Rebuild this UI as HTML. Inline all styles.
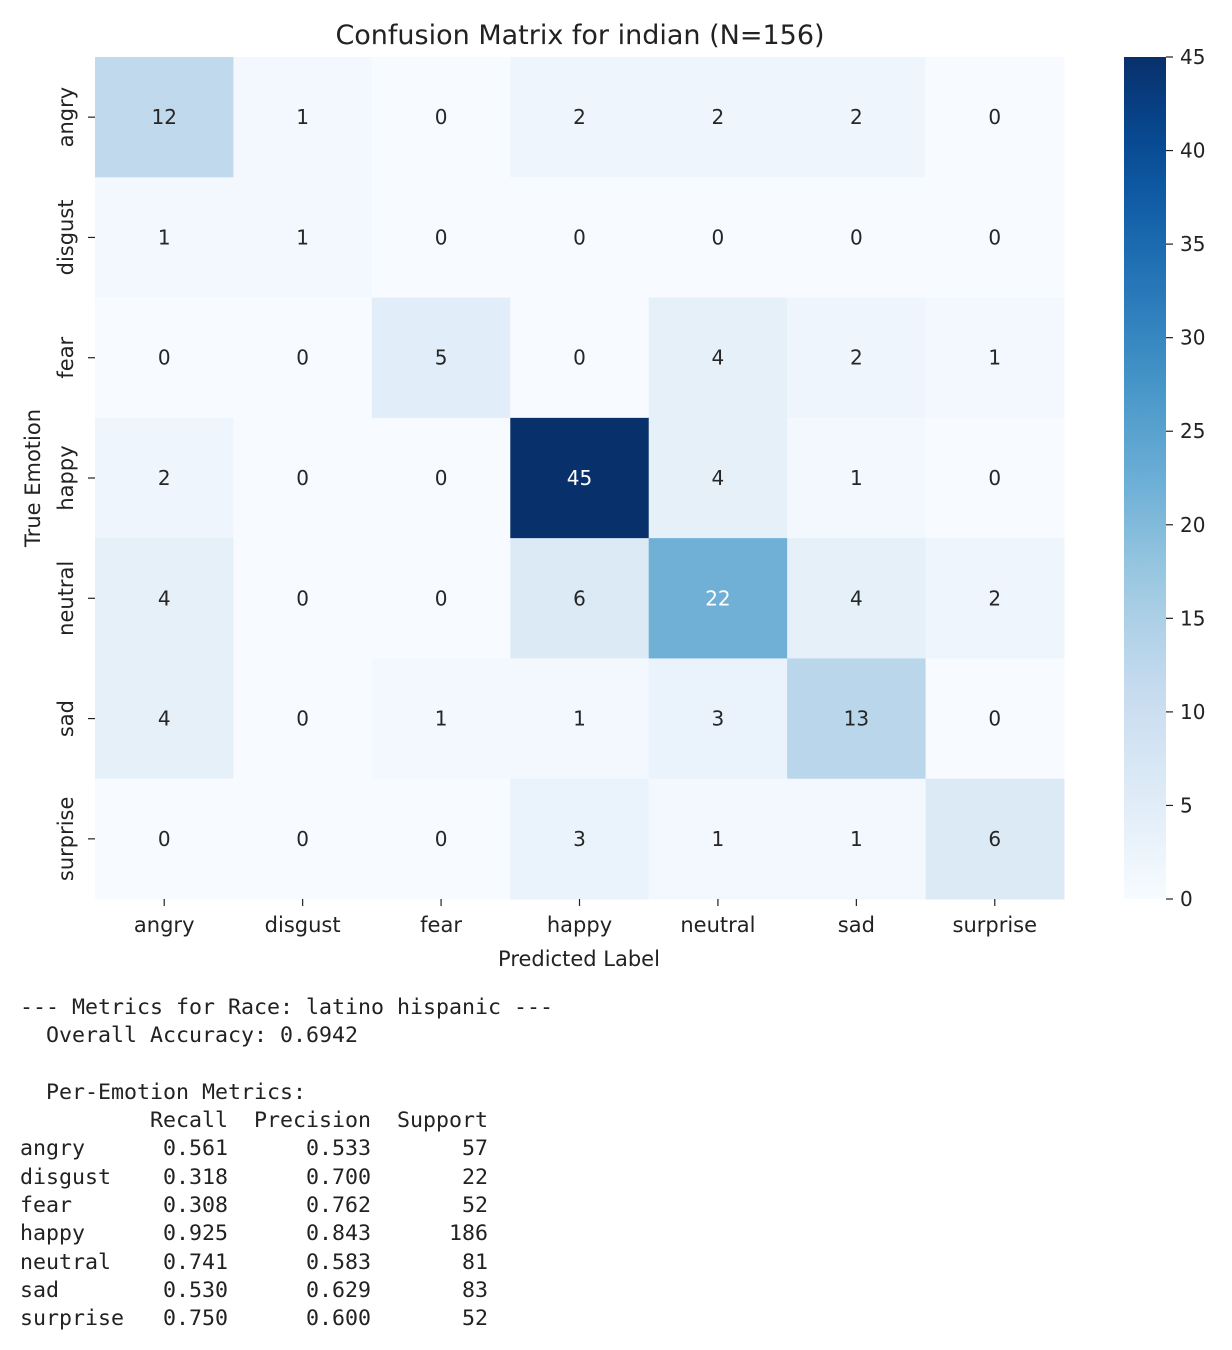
<!DOCTYPE html>
<html><head><meta charset="utf-8"><style>
body{margin:0;background:#fff;width:1232px;height:1350px;overflow:hidden;position:relative}
svg{position:absolute;left:0;top:0}
pre{position:absolute;left:20px;top:994px;margin:0;font-family:"DejaVu Sans Mono","Liberation Mono",monospace;font-size:21.6px;line-height:28.3px;color:#222}
</style></head><body>
<svg id="chart" width="1232" height="980" font-family="DejaVu Sans, Liberation Sans, sans-serif"></svg>
<pre>--- Metrics for Race: latino hispanic ---
  Overall Accuracy: 0.6942

  Per-Emotion Metrics:
          Recall  Precision  Support
angry      0.561      0.533       57
disgust    0.318      0.700       22
fear       0.308      0.762       52
happy      0.925      0.843      186
neutral    0.741      0.583       81
sad        0.530      0.629       83
surprise   0.750      0.600       52</pre>
<script>
const labels=["angry","disgust","fear","happy","neutral","sad","surprise"];
const matrix=[
[12,1,0,2,2,2,0],
[1,1,0,0,0,0,0],
[0,0,5,0,4,2,1],
[2,0,0,45,4,1,0],
[4,0,0,6,22,4,2],
[4,0,1,1,3,13,0],
[0,0,0,3,1,1,6]];
const cbTicks=[0,5,10,15,20,25,30,35,40,45];
const vmax=45;
const NS="http://www.w3.org/2000/svg";
const svg=document.getElementById('chart');
function mk(t,a,txt){const e=document.createElementNS(NS,t);for(const k in a)e.setAttribute(k,a[k]);if(txt!==undefined)e.textContent=txt;svg.appendChild(e);return e;}
const stops=["#f7fbff","#deebf7","#c6dbef","#9ecae1","#6baed6","#4292c6","#2171b5","#08519c","#08306b"].map(h=>[1,3,5].map(i=>parseInt(h.substr(i,2),16)));
function cmap(t){t=Math.max(0,Math.min(1,t))*8;const i=Math.min(7,Math.floor(t)),f=t-i;const c=stops[i].map((v,k)=>Math.round(v+(stops[i+1][k]-v)*f));return `rgb(${c.join(',')})`;}
const X0=95,X1=1064,Y0=57,Y1=899,n=labels.length;
const cw=(X1-X0)/n,ch=(Y1-Y0)/n;
const xs=j=>X0+j*cw, ys=i=>Y0+i*ch;
mk('text',{x:580,y:44,'text-anchor':'middle','font-size':27,fill:'#222'},'Confusion Matrix for indian (N=156)');
for(let i=0;i<n;i++)for(let j=0;j<n;j++){
 const v=matrix[i][j];
 const r=mk('rect',{x:xs(j),y:ys(i),width:cw+0.5,height:ch+0.5,fill:cmap(v/vmax)});
 
 
 const t=mk('text',{x:xs(j)+cw/2,y:ys(i)+ch/2+7,'text-anchor':'middle','font-size':20,fill:v/vmax>0.45?'#fff':'#262626'},v);
 
 
}
labels.forEach((l,j)=>{
 const cx=xs(j)+cw/2;
 mk('line',{x1:cx,x2:cx,y1:Y1,y2:Y1+7,stroke:'#222','stroke-width':1.2});
 const t=mk('text',{x:cx,y:Y1+33,'text-anchor':'middle','font-size':21,fill:'#222'},l);
 
 
 const cy=ys(j)+ch/2;
 mk('line',{x1:X0-7,x2:X0,y1:cy,y2:cy,stroke:'#222','stroke-width':1.2});
 const u=mk('text',{x:0,y:0,'text-anchor':'middle','font-size':21,fill:'#222',transform:`translate(73,${cy}) rotate(-90)`},l);
 
 
});
mk('text',{x:579,y:966,'text-anchor':'middle','font-size':21,fill:'#222'},'Predicted Label');
mk('text',{x:0,y:0,'text-anchor':'middle','font-size':21,fill:'#222',transform:`translate(40,478) rotate(-90)`},'True Emotion');
const CX=1124,CW=42;
const g=mk('defs',{});
const lg=document.createElementNS(NS,'linearGradient');lg.setAttribute('id','cb');lg.setAttribute('x1',0);lg.setAttribute('x2',0);lg.setAttribute('y1',1);lg.setAttribute('y2',0);
for(let k=0;k<=20;k++){const s=document.createElementNS(NS,'stop');s.setAttribute('offset',k/20);s.setAttribute('stop-color',cmap(k/20));lg.appendChild(s);}
g.appendChild(lg);
const cb=mk('rect',{x:CX,y:Y0,width:CW,height:Y1-Y0,fill:'url(#cb)'});


const cy=v=>Y1-(v/vmax)*(Y1-Y0);
cbTicks.forEach(v=>{
 mk('line',{x1:CX+CW,x2:CX+CW+7,y1:cy(v),y2:cy(v),stroke:'#222','stroke-width':1.2});
 const t=mk('text',{x:CX+CW+14,y:cy(v)+7,'font-size':20,fill:'#222'},v);
 
 
});
</script>
</body></html>
